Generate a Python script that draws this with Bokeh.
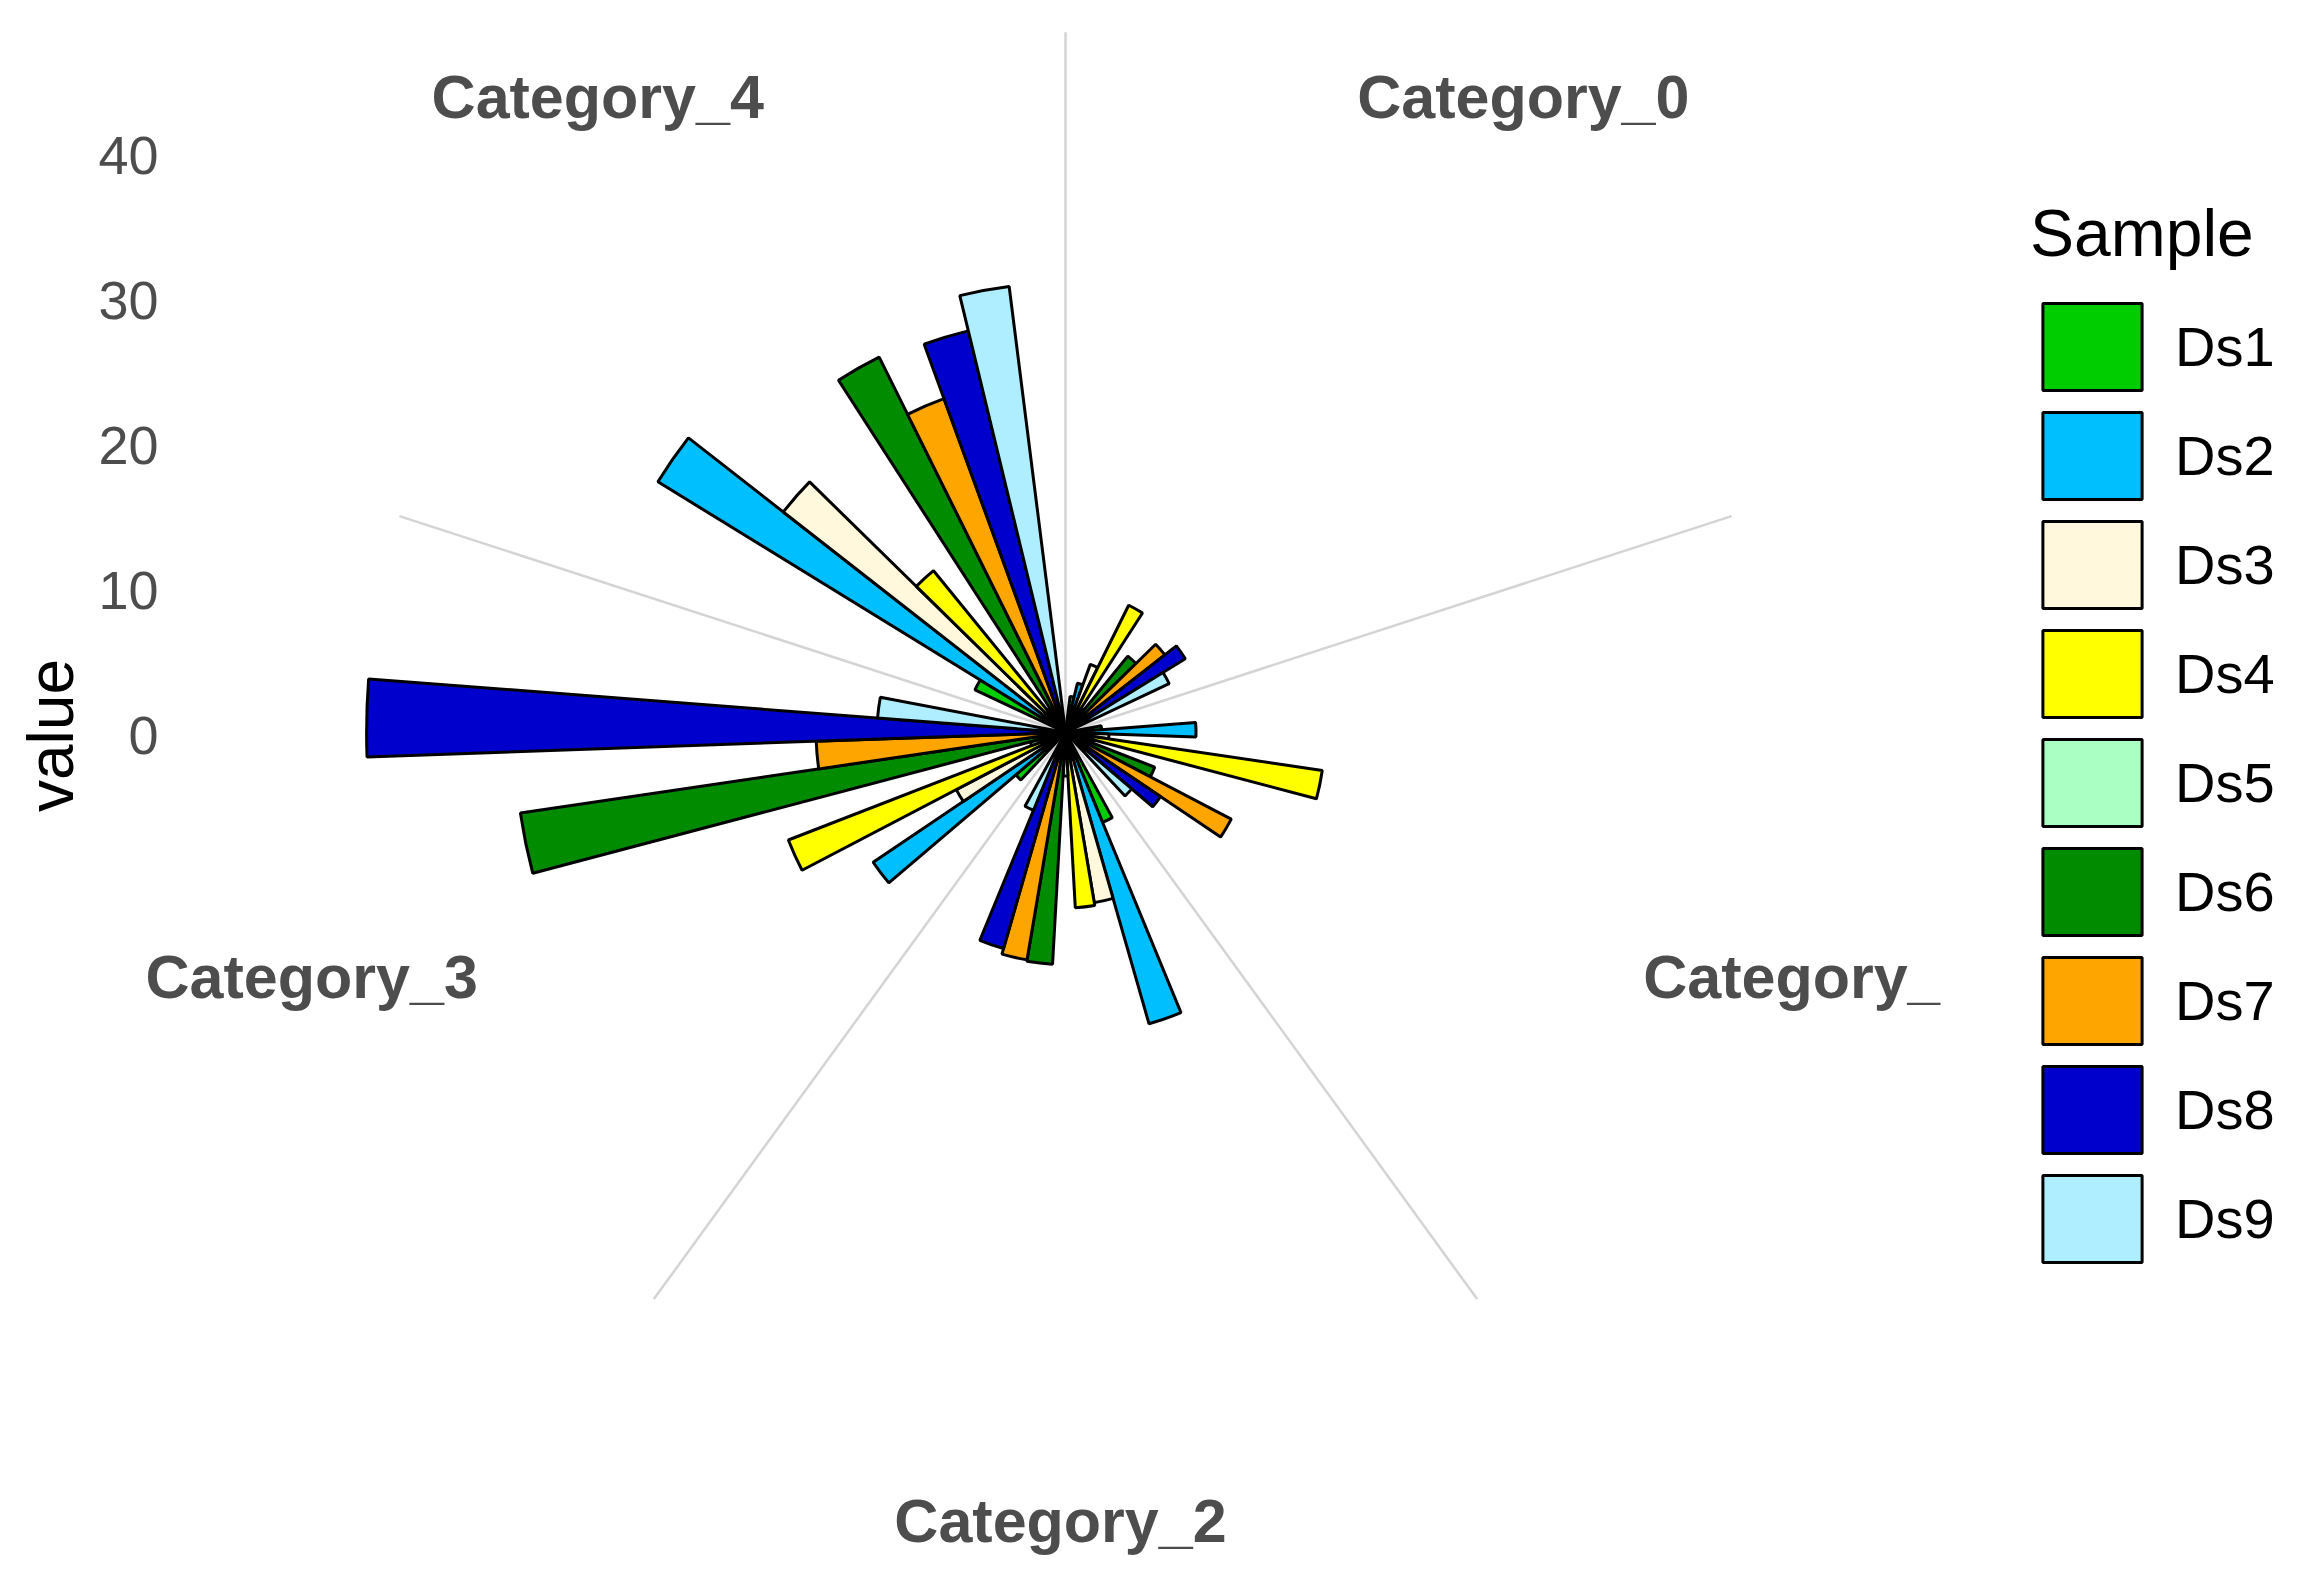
import math
from bokeh.plotting import figure
from bokeh.models import ColumnDataSource, Range1d, Legend, LegendItem
from bokeh.embed import file_html
from bokeh.resources import INLINE
from bokeh.core.properties import value

# ---------------- data ----------------
categories = ["Category_0", "Category_1", "Category_2", "Category_3", "Category_4"]
samples = ["Ds1", "Ds2", "Ds3", "Ds4", "Ds5", "Ds6", "Ds7", "Ds8", "Ds9"]
# values per sample, one per category (Category_0 .. Category_4)
ds1 = [2.5, 2.5, 6.7, 4.5, 6.9]
ds2 = [3.5, 9.0, 20.9, 16.0, 33.0]
ds3 = [5.0, 3.0, 11.9, 8.5, 24.7]
ds4 = [9.8, 17.9, 12.1, 20.5, 14.4]
ds5 = [2.0, 2.0, 3.0, 2.5, 2.0]
ds6 = [6.8, 6.6, 16.0, 38.0, 28.9]
ds7 = [8.7, 12.9, 15.9, 17.2, 24.5]
ds8 = [9.7, 7.9, 15.5, 48.2, 28.5]
ds9 = [7.9, 6.0, 5.8, 13.0, 31.0]
sample_values = [ds1, ds2, ds3, ds4, ds5, ds6, ds7, ds8, ds9]
radial_ticks = [0, 10, 20, 30, 40]
radial_tick_labels = ["0", "10", "20", "30", "40"]
axis_title = "value"
legend_title = "Sample"

colors = ["#00CD00", "#00BFFF", "#FFF8DC", "#FFFF00", "#AAFFC3",
          "#008B00", "#FFA500", "#0000CD", "#AFEEFF"]

# ---------------- geometry / styling ----------------
PX = 14.5                    # pixels per value unit
CX, CY = 1065, 732           # page position of polar centre
F_LEFT, F_RIGHT = 0, 1940    # page x of frame edges
F_TOP, F_BOTTOM = 0, 1574    # page y of frame edges
FIG_W = 2299
SPOKE_LEN = 48.3
LABEL_R = 54.3
TICK_RIGHT_X = 158           # page x of right edge of radial tick labels
TITLE_X, TITLE_Y = 50, 735   # page position of axis title centre
FONT = "Liberation Sans"
GREY30 = "#4D4D4D"

n_cat = len(categories)
n_s = len(samples)
sector = 2 * math.pi / n_cat
dodge = 0.8
bw = sector * dodge / n_s

p = figure(
    frame_width=F_RIGHT - F_LEFT,
    frame_height=F_BOTTOM - F_TOP,
    min_border_left=0,
    min_border_right=FIG_W - (F_RIGHT - F_LEFT),
    min_border_top=0,
    min_border_bottom=0,
    x_range=Range1d((F_LEFT - CX) / PX, (F_RIGHT - CX) / PX),
    y_range=Range1d((CY - F_BOTTOM) / PX, (CY - F_TOP) / PX),
    x_axis_location=None,
    y_axis_location=None,
    toolbar_location=None,
    output_backend="svg",
    background_fill_color="white",
    border_fill_color="white",
)
p.outline_line_color = None
p.grid.visible = False

# spokes at category boundaries
spoke_theta = [k * sector for k in range(n_cat)]
p.segment(x0=0, y0=0,
          x1=[SPOKE_LEN * math.sin(t) for t in spoke_theta],
          y1=[SPOKE_LEN * math.cos(t) for t in spoke_theta],
          line_color="#D4D4D4", line_width=2.5)

# bars (dodged sectors)
renderers = []
for j, (name, vals, col) in enumerate(zip(samples, sample_values, colors)):
    th = [k * sector + sector * (1 - dodge) / 2 + bw * (j + 0.5) for k in range(n_cat)]
    src = ColumnDataSource(dict(
        r=vals,
        a0=[math.pi / 2 - (t + bw / 2) for t in th],
        a1=[math.pi / 2 - (t - bw / 2) for t in th],
    ))
    r = p.wedge(x=0, y=0, radius="r", start_angle="a0", end_angle="a1",
                source=src, fill_color=col, line_color="black", line_width=3)
    renderers.append(r)

# category labels
lab_theta = [k * sector + sector / 2 for k in range(n_cat)]
p.text(x=[LABEL_R * math.sin(t) for t in lab_theta],
       y=[LABEL_R * math.cos(t) for t in lab_theta],
       text=categories, text_align="center", text_baseline="middle",
       x_offset=-5, y_offset=1,
       text_font=value(FONT), text_font_style="bold",
       text_font_size="61px", text_color=GREY30)

# radial tick labels
p.text(x=[(TICK_RIGHT_X - CX) / PX] * len(radial_ticks), y=radial_ticks,
       text=radial_tick_labels, text_align="right", text_baseline="middle",
       y_offset=3,
       text_font=value(FONT), text_font_size="54px", text_color=GREY30)

# radial axis title
p.text(x=[(TITLE_X - CX) / PX], y=[(CY - TITLE_Y) / PX], text=[axis_title],
       angle=math.pi / 2, text_align="center", text_baseline="middle",
       text_font=value(FONT), text_font_size="64px", text_color="black")

legend = Legend(
    items=[LegendItem(label=s, renderers=[r]) for s, r in zip(samples, renderers)],
    title=legend_title,
    location=(90, 301),
    orientation="vertical",
)
legend.title_text_font = FONT
legend.title_text_font_size = "66px"
legend.title_text_font_style = "normal"
legend.title_text_color = "black"
legend.title_standoff = 21
legend.label_text_font = FONT
legend.label_text_font_size = "56px"
legend.label_text_color = "black"
legend.glyph_width = 124
legend.glyph_height = 109
legend.label_height = 109
legend.spacing = 0
legend.label_standoff = 21
legend.padding = 0
legend.margin = 0
legend.border_line_color = None
legend.background_fill_alpha = 0
p.add_layout(legend, "right")

open("out.html", "w").write(file_html(p, INLINE))
